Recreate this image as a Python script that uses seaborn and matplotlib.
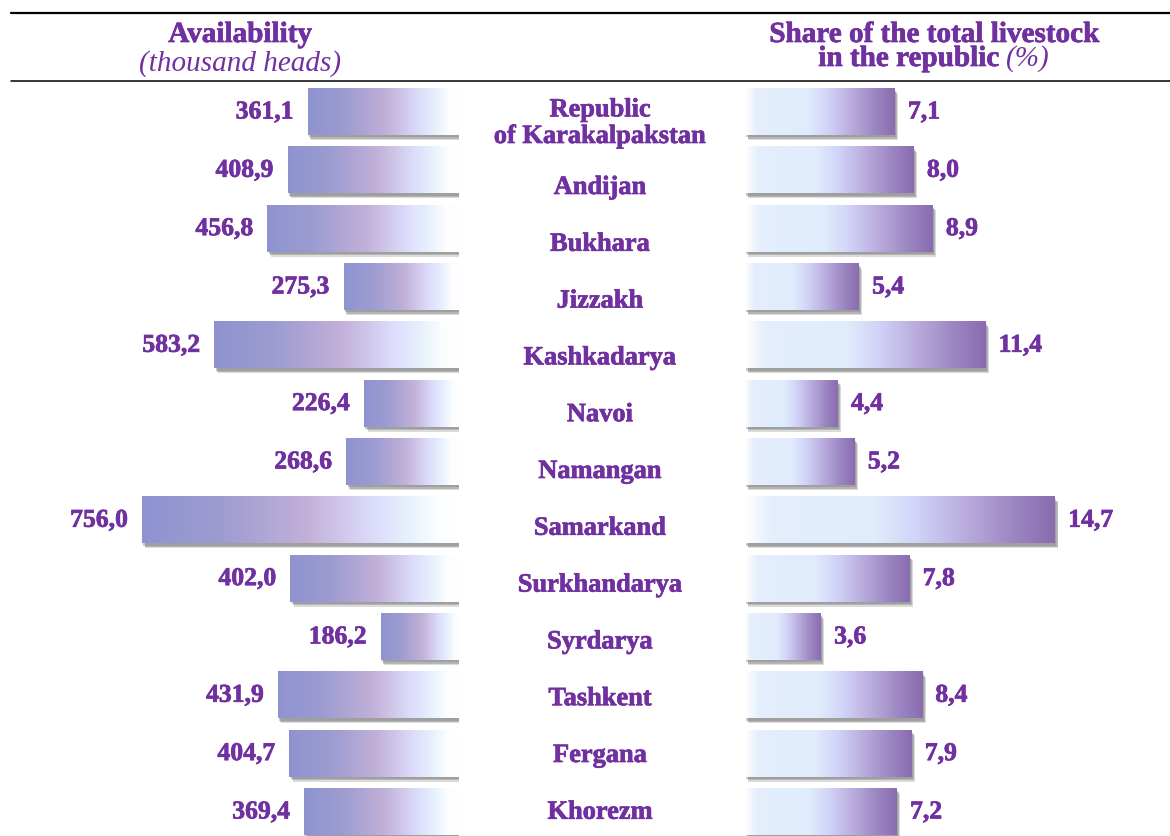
import numpy as np
import pandas as pd
import matplotlib
matplotlib.use("Agg")
import matplotlib.pyplot as plt
import seaborn as sns
from matplotlib import patheffects as pe
from matplotlib.colors import LinearSegmentedColormap
from matplotlib.lines import Line2D
from matplotlib.transforms import blended_transform_factory, offset_copy

# Livestock by region
regions = [
    "Republic\nof Karakalpakstan", "Andijan", "Bukhara", "Jizzakh", "Kashkadarya",
    "Navoi", "Namangan", "Samarkand", "Surkhandarya", "Syrdarya", "Tashkent",
    "Fergana", "Khorezm",
]
heads = [361.1, 408.9, 456.8, 275.3, 583.2, 226.4, 268.6, 756.0, 402.0, 186.2, 431.9, 404.7, 369.4]
share = [7.1, 8.0, 8.9, 5.4, 11.4, 4.4, 5.2, 14.7, 7.8, 3.6, 8.4, 7.9, 7.2]

left_title = "Availability"
left_sub = "(thousand heads)"
right_title = "Share of the total livestock"
right_sub_bold = "in the republic "
right_sub_ital = "(%)"

df = pd.DataFrame({"region": regions, "heads": heads, "share": share})

sns.set_theme(style="white")
plt.rcParams["font.family"] = ["Liberation Serif", "DejaVu Serif"]

PURPLE = "#7030A0"
W, H = 1170, 836
fig = plt.figure(figsize=(W / 100, H / 100), dpi=100)
fig.patch.set_facecolor("white")

# slightly heavier strokes for the bold captions
heavy = [pe.withStroke(linewidth=0.5, foreground=PURPLE)]


def px_x(x):
    return x / W


def px_y(y):
    return 1 - y / H


axL = fig.add_axes([0, 0, px_x(459), 1])
axR = fig.add_axes([px_x(745), 0, px_x(425), 1])
# middle column holding the region names (its own row grid)
axN = fig.add_axes([px_x(459), 0, px_x(745 - 459), 1])

BAR_W = 0.794
sns.barplot(data=df, y="region", x="heads", ax=axL, width=BAR_W, color="white")
sns.barplot(data=df, y="region", x="share", ax=axR, width=BAR_W, color="white")

left_cmap = LinearSegmentedColormap.from_list("left", [
    (0.0, "#ffffff"), (0.07, "#fbfdff"), (0.15, "#e8f2fd"), (0.27, "#dcdcfb"),
    (0.48, "#c2b0d8"), (0.75, "#9d9cd1"), (1.0, "#8e93d0"),
])
right_cmap = LinearSegmentedColormap.from_list("right", [
    (0.0, "#ffffff"), (0.08, "#e4eefc"), (0.42, "#e0ecfc"), (0.55, "#d2d4f8"),
    (0.72, "#b8aadc"), (0.87, "#9c86c2"), (1.0, "#8a6cb0"),
])

shadow = [
    pe.SimplePatchShadow(offset=(1.0, -1.5), shadow_rgbFace="#7a7a7a", alpha=0.40),
    pe.SimplePatchShadow(offset=(1.8, -2.5), shadow_rgbFace="#7a7a7a", alpha=0.40),
    pe.SimplePatchShadow(offset=(2.5, -3.4), shadow_rgbFace="#8a8a8a", alpha=0.30),
    pe.Normal(),
]
grad = np.linspace(0, 1, 512).reshape(1, -1)

for ax, cmap in ((axL, left_cmap), (axR, right_cmap)):
    for p in ax.patches:
        p.set_facecolor("white")
        p.set_edgecolor("none")
        p.set_path_effects(shadow)
        x0, y0, w, h = p.get_x(), p.get_y(), p.get_width(), p.get_height()
        ax.imshow(grad, cmap=cmap, extent=(x0, x0 + w, y0 + h, y0),
                  aspect="auto", interpolation="bilinear", zorder=3)

ROW = 58.33
for ax in (axL, axR):
    ax.set_ylim((H - 112) / ROW, -112 / ROW)
    ax.axis("off")
axL.set_xlim(459 / (317 / 756), 0)
axR.set_xlim(0, 425 / (310 / 14.7))

NAME_ROW = 56.8
NAME_TOP = 130.7
axN.set_ylim((H - NAME_TOP) / NAME_ROW, -NAME_TOP / NAME_ROW)
axN.set_xlim(0, 1)
axN.axis("off")


def fmt(v):
    return f"{v:.1f}".replace(".", ",")


for i, v in enumerate(heads):
    axL.annotate(fmt(v), (v, i), xytext=(-10, 0), textcoords="offset points",
                 ha="right", va="center", fontsize=18.5, fontweight="bold",
                 color=PURPLE, zorder=5, path_effects=heavy)
for i, v in enumerate(share):
    axR.annotate(fmt(v), (v, i), xytext=(9.5, 0), textcoords="offset points",
                 ha="left", va="center", fontsize=18.5, fontweight="bold",
                 color=PURPLE, zorder=5, path_effects=heavy)

# Region names, centred in the middle column
name_x = (600 - 459) / (745 - 459)
for i, name in enumerate(regions):
    shift = 7.5 if "\n" in name else 0
    tr = offset_copy(axN.transData, fig=fig, x=0, y=shift, units="dots")
    axN.text(name_x, i, name, transform=tr, ha="center", va="center",
             fontsize=19, fontweight="bold", color=PURPLE, linespacing=1.2,
             path_effects=heavy)

# Header rules
fig.add_artist(Line2D([px_x(11), 1], [px_y(13), px_y(13)], color="black", lw=1.6))
fig.add_artist(Line2D([px_x(11), 1], [px_y(81), px_y(81)], color="black", lw=1.1))

# Header captions
fig.text(px_x(240), px_y(42), left_title, ha="center", va="baseline",
         fontsize=21, fontweight="bold", color=PURPLE, path_effects=heavy)
fig.text(px_x(240), px_y(71), left_sub, ha="center", va="baseline",
         fontsize=21, fontstyle="italic", color=PURPLE)
fig.text(px_x(934), px_y(42), right_title, ha="center", va="baseline",
         fontsize=21, fontweight="bold", color=PURPLE, path_effects=heavy)

t1 = fig.text(0, px_y(66), right_sub_bold, ha="left", va="baseline",
              fontsize=21, fontweight="bold", color=PURPLE, path_effects=heavy)
t2 = fig.text(0, px_y(66), right_sub_ital, ha="left", va="baseline",
              fontsize=21, fontstyle="italic", color=PURPLE)
renderer = fig.canvas.get_renderer()
w1 = t1.get_window_extent(renderer).width
w2 = t2.get_window_extent(renderer).width
start = 934 - (w1 + w2) / 2
t1.set_x(px_x(start))
t2.set_x(px_x(start + w1))

fig.savefig("out.png", dpi=100, facecolor="white")
